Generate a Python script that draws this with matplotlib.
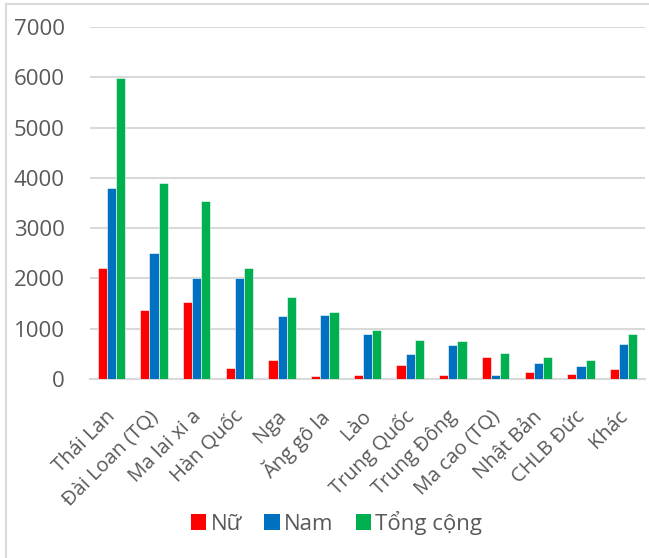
import numpy as np
import matplotlib
matplotlib.use("Agg")
import matplotlib.pyplot as plt
from matplotlib.lines import Line2D
from matplotlib.patches import Patch

plt.rcParams['font.family'] = ['Open Sans', 'DejaVu Sans']

countries = ['Thái Lan', 'Đài Loan (TQ)', 'Ma lai xi a', 'Hàn Quốc', 'Nga',
             'Ăng gô la', 'Lào', 'Trung Quốc', 'Trung Đông', 'Ma cao (TQ)',
             'Nhật Bản', 'CHLB Đức', 'Khác']
nu = [2200, 1380, 1540, 220, 385, 66, 80, 282, 87, 436, 134, 107, 195]
nam = [3800, 2500, 2010, 2000, 1260, 1280, 886, 497, 678, 80, 322, 262, 698]
tong = [5980, 3890, 3540, 2210, 1640, 1333, 966, 779, 758, 510, 443, 376, 893]

series = [('Nữ', nu, '#FF0000'), ('Nam', nam, '#0070C0'), ('Tổng cộng', tong, '#00B050')]

fig = plt.figure(figsize=(6.49, 5.58), dpi=100)
ax = fig.add_axes([90 / 649, 1 - 379 / 558, 555 / 649, 352 / 558])

x = np.arange(len(countries))
w = 0.215
for i, (name, vals, col) in enumerate(series):
    ax.bar(x + (i - 1) * w, vals, w, color=col, edgecolor='white', linewidth=0.4,
           label=name, zorder=3)

ax.set_xlim(-0.5, len(countries) - 0.5)
ax.set_ylim(0, 7000)
ax.set_yticks(np.arange(0, 7001, 1000))
ax.yaxis.grid(True, color='#D9D9D9', linewidth=1.5, zorder=0)
for s in ['top', 'right', 'left']:
    ax.spines[s].set_visible(False)
ax.spines['bottom'].set_color('#D9D9D9')
ax.spines['bottom'].set_linewidth(1.5)
ax.tick_params(axis='y', length=0, pad=18, labelsize=16, labelcolor='#595959')
ax.tick_params(axis='x', length=0, pad=25)
ax.set_xticks(x + 0.03)
ax.set_xticklabels(countries, rotation=45, ha='right', va='center',
                   rotation_mode='anchor', fontsize=14.5, color='#595959')

handles = [Patch(facecolor=c, label=n) for n, _, c in series]
fig.legend(handles=handles, loc='center', bbox_to_anchor=(0.519, 0.063), ncol=3,
           frameon=False, fontsize=16, handlelength=0.68, handleheight=0.68,
           handletextpad=0.2, columnspacing=1.0, labelcolor='#595959')

# chart frame
fig.add_artist(Line2D([6 / 649, 6 / 649], [0, 1 - 4 / 558], color='#D9D9D9', lw=1.5))
fig.add_artist(Line2D([6 / 649, 1], [1 - 4 / 558, 1 - 4 / 558], color='#D9D9D9', lw=1.5))

fig.savefig('out.png', dpi=100)
